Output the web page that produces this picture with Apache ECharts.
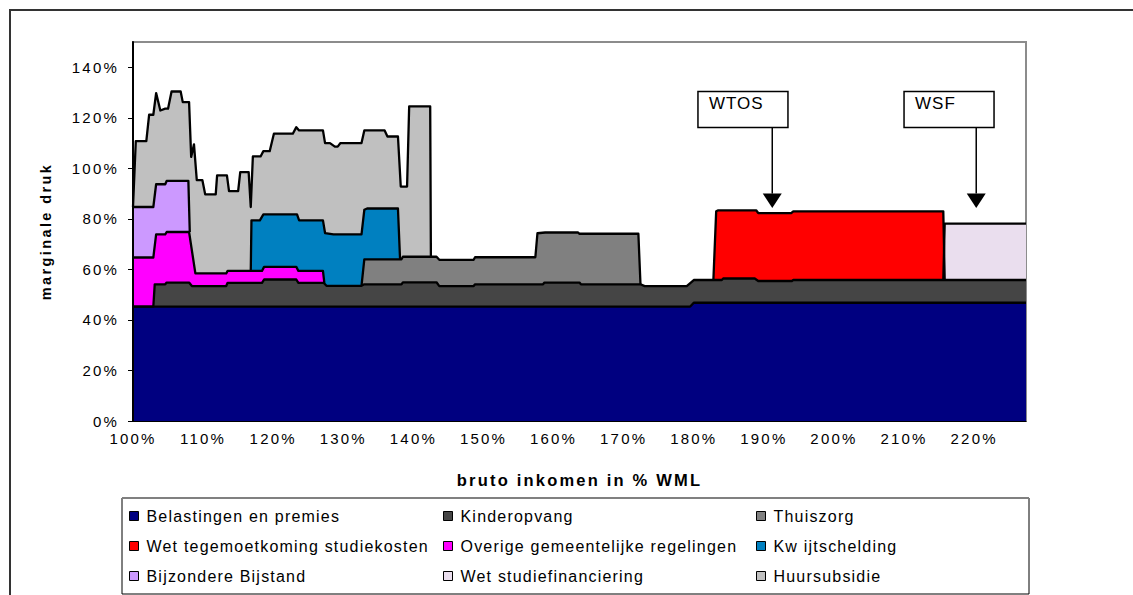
<!DOCTYPE html>
<html>
<head>
<meta charset="utf-8">
<script src="https://cdn.jsdelivr.net/npm/echarts@6/dist/echarts.min.js"></script>
<style>
    html, body { margin: 0; padding: 0; background: #fff; }
    #chart { width: 1133px; height: 595px; }
    /* the reference text is widely spaced (old Excel rendering) */
    #chart text[style*="15px"] { letter-spacing: 2.2px; }
    #chart text[style*="16px"] { letter-spacing: 1.2px; }
    #chart text[style*="16.5px"] { letter-spacing: 2.2px; }
    #chart text[style*="14.5px"] { letter-spacing: 2.4px; }
    #chart text[style*="17px"] { letter-spacing: 1px; }
</style>
</head>
<body>
<div id="chart"></div>
<script>
    // tick labels (in %)
    const xTicks = [100, 110, 120, 130, 140, 150, 160, 170, 180, 190, 200, 210, 220]
    const yTicks = [0, 20, 40, 60, 80, 100, 120, 140]

    // top edge of every layer: [bruto inkomen % WML, marginale druk %]
    const belastingen = [[100, 45.3], [179.5, 45.3], [180, 46.8], [227.4, 46.8]]
    const kinderopvang = [[100, 45.3], [102.9, 45.3], [103.1, 54.1], [104.6, 54.1], [104.8, 54.8], [108.0, 54.8],
        [108.4, 53.4], [113.3, 53.4], [113.5, 54.7], [118.4, 54.7], [118.7, 56.0], [123.3, 56.0], [123.6, 54.7],
        [127.2, 54.7], [127.6, 53.5], [132.6, 53.5], [133.0, 54.1], [138.3, 54.1], [138.5, 54.9], [143.3, 54.9],
        [143.7, 53.4], [148.6, 53.4], [148.8, 54.1], [158.5, 54.1], [158.7, 54.8], [163.7, 54.8], [163.9, 54.1],
        [172.4, 54.1], [173.0, 53.4], [179.0, 53.4], [180.0, 55.8], [184.0, 55.8], [184.2, 56.4], [188.7, 56.4],
        [189.2, 55.4], [194.0, 55.4], [194.2, 55.8], [227.4, 55.8]]
    const thuiszorg = [[132.6, 53.5], [133.0, 64.0], [138.3, 64.0], [138.5, 65.0], [143.3, 65.0], [143.7, 63.8],
        [148.6, 63.8], [148.8, 64.8], [157.4, 64.8], [157.7, 74.3], [158.8, 74.6], [163.5, 74.6], [163.7, 74.1],
        [172.1, 74.1], [172.4, 54.1]]
    const wtos = [[182.8, 55.8], [183.2, 83.0], [183.5, 83.4], [188.9, 83.4], [189.2, 82.3], [193.9, 82.3],
        [194.2, 83.0], [215.6, 83.0], [215.8, 55.8]]
    const overige = [[100, 64.7], [102.9, 64.7], [103.3, 73.9], [104.6, 73.9], [104.8, 74.8], [108.0, 74.8],
        [108.9, 58.4], [113.3, 58.4], [113.5, 59.4], [118.4, 59.4], [118.7, 61.0], [123.3, 61.0], [123.6, 59.4],
        [127.1, 59.4], [127.3, 54.7]]
    const kwijtschelding = [[116.8, 59.4], [116.9, 79.4], [118.1, 79.4], [118.6, 81.8], [123.4, 81.8], [123.7, 79.4],
        [127.1, 79.4], [127.4, 74.4], [128.6, 73.9], [132.6, 73.9], [133.0, 83.6], [133.4, 84.1], [137.8, 84.1],
        [138.1, 64.0]]
    const bijzondere = [[100, 84.7], [102.9, 84.7], [103.3, 93.7], [104.6, 93.7], [104.8, 95.0], [107.9, 95.0],
        [108.1, 74.8]]
    const studiefinanciering = [[215.6, 55.8], [215.8, 78.1], [227.4, 78.1]]
    const huursubsidie = [[100, 84.7], [100.4, 110.8], [101.9, 110.8], [102.3, 121.2], [102.9, 121.2], [103.3, 129.8],
        [103.9, 122.9], [104.6, 123.6], [105.0, 123.6], [105.5, 130.4], [106.8, 130.4], [107.1, 126.2], [108.0, 126.2],
        [108.3, 104.5], [108.7, 109.5], [109.1, 95.3], [109.9, 95.3], [110.3, 89.7], [111.8, 89.7], [112.0, 97.2],
        [113.4, 97.2], [113.7, 91.0], [115.0, 91.0], [115.3, 98.5], [116.5, 98.5], [116.8, 84.7], [117.1, 104.7],
        [118.2, 104.7], [118.6, 106.8], [119.5, 106.8], [120.1, 113.7], [122.8, 113.7], [123.3, 116.3], [123.7, 115.0],
        [127.1, 115.0], [127.4, 110.0], [128.1, 110.0], [128.8, 108.6], [129.2, 108.6], [129.6, 110.0], [132.6, 110.0],
        [133.0, 115.0], [135.9, 115.0], [136.3, 112.6], [137.8, 112.6], [138.2, 92.8], [139.1, 92.8], [139.4, 124.5],
        [142.4, 124.5], [142.5, 65.0]]

    // top layer first, so every lower layer is painted over it
    const layers = [
        ['Huursubsidie', huursubsidie, '#c0c0c0'],
        ['Wet studiefinanciering', studiefinanciering, '#eadeee'],
        ['Bijzondere Bijstand', bijzondere, '#cc99ff'],
        ['Kw ijtschelding', kwijtschelding, '#0080c0'],
        ['Overige gemeentelijke regelingen', overige, '#ff00ff'],
        ['Wet tegemoetkoming studiekosten', wtos, '#ff0000'],
        ['Thuiszorg', thuiszorg, '#808080'],
        ['Kinderopvang', kinderopvang, '#454545'],
        ['Belastingen en premies', belastingen, '#000080']
    ]

    const legendColumns = [
        ['Belastingen en premies', 'Wet tegemoetkoming studiekosten', 'Bijzondere Bijstand'],
        ['Kinderopvang', 'Overige gemeentelijke regelingen', 'Wet studiefinanciering'],
        ['Thuiszorg', 'Kw ijtschelding', 'Huursubsidie']
    ]

    const font = 'Liberation Sans, Arial, sans-serif'
    const chart = echarts.init(document.getElementById('chart'), null, {renderer: 'svg'})

    const legendLeft = [129, 443, 756]
    const option = {
        animation: false,
        backgroundColor: '#fff',
        textStyle: {fontFamily: font, color: '#000'},
        grid: {
            left: 133, top: 42, right: 107, bottom: 174,
            show: true, backgroundColor: '#fff', borderColor: '#8c8c8c', borderWidth: 2
        },
        xAxis: {
            type: 'value', min: 100, max: 227.4,
            name: 'bruto inkomen in % WML', nameLocation: 'middle', nameGap: 50,
            nameTextStyle: {fontSize: 16.5, fontWeight: 'bold', color: '#000', fontFamily: font},
            axisLine: {show: true, lineStyle: {color: '#000', width: 1}},
            axisTick: {show: false},
            splitLine: {show: false},
            axisLabel: {customValues: xTicks, formatter: '{value}%', fontSize: 15, color: '#000', margin: 10, fontFamily: font}
        },
        yAxis: {
            type: 'value', min: 0, max: 150, z: 5,
            name: 'marginale druk', nameLocation: 'middle', nameGap: 80,
            nameTextStyle: {fontSize: 14.5, fontWeight: 'bold', color: '#000', fontFamily: font},
            axisLine: {show: true, lineStyle: {color: '#000', width: 2}},
            axisTick: {show: true, length: 5, customValues: yTicks, lineStyle: {color: '#000', width: 1}},
            splitLine: {show: false},
            axisLabel: {customValues: yTicks, formatter: '{value}%', fontSize: 15, color: '#000', margin: 14, fontFamily: font}
        },
        legend: legendColumns.map((names, i) => ({
            data: names,
            orient: 'vertical',
            left: legendLeft[i],
            top: 508,
            padding: 0,
            icon: 'rect',
            itemWidth: 9,
            itemHeight: 9,
            itemGap: 14,
            selectedMode: false,
            itemStyle: {borderColor: '#000', borderWidth: 1},
            textStyle: {fontSize: 16, color: '#000', fontFamily: font, lineHeight: 16, padding: [0, 0, 0, 3]}
        })),
        series: layers.map(([name, data, color]) => ({
            name: name,
            type: 'line',
            data: data,
            symbol: 'none',
            showSymbol: false,
            silent: true,
            itemStyle: {color: color},
            lineStyle: {color: '#000', width: 2.3, join: 'round'},
            areaStyle: {color: color, opacity: 1, origin: 'start'}
        }))
    }
    chart.setOption(option)

    // WTOS / WSF call-outs, anchored in data units
    const annotations = [
        {label: 'WTOS', boxX: 180.6, arrowX: 191.2},
        {label: 'WSF', boxX: 210.0, arrowX: 220.3}
    ]
    const px = (x, y) => chart.convertToPixel({gridIndex: 0}, [x, y])
    const graphics = [
        {type: 'rect', shape: {x: 10, y: 10, width: 1300, height: 800}, style: {fill: 'none', stroke: '#333', lineWidth: 2}, z: 0},
        {type: 'rect', shape: {x: 122, y: 498, width: 907, height: 96}, style: {fill: '#fff', stroke: '#000', lineWidth: 1}, z: 0},
        {type: 'line', shape: {x1: 122, y1: 498, x2: 1029, y2: 498}, style: {stroke: '#808080', lineWidth: 2}, z: 0}
    ]
    annotations.forEach(a => {
        const box = px(a.boxX, 130.4)
        const ax = px(a.arrowX, 0)[0]
        const headTop = px(a.arrowX, 90.0)[1]
        const tip = px(a.arrowX, 84.3)[1]
        graphics.push(
            {type: 'rect', shape: {x: box[0], y: box[1], width: 90, height: 36}, style: {fill: '#fff', stroke: '#000', lineWidth: 1.5}, z: 10},
            {type: 'text', x: box[0] + 11, y: box[1] + 12, style: {text: a.label, font: '17px ' + font, fill: '#000', verticalAlign: 'middle'}, z: 11},
            {type: 'line', shape: {x1: ax, y1: box[1] + 36, x2: ax, y2: headTop}, style: {stroke: '#000', lineWidth: 1.5}, z: 10},
            {type: 'polygon', shape: {points: [[ax - 9.5, headTop], [ax + 9.5, headTop], [ax, tip]]}, style: {fill: '#000'}, z: 10}
        )
    })
    chart.setOption({graphic: graphics})
</script>
</body>
</html>
